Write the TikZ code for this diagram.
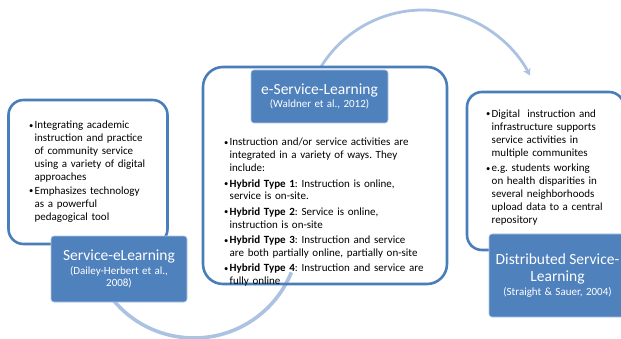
\documentclass[tikz,border=0pt]{standalone}
\usepackage{fontspec}
\setmainfont{Carlito}
\usetikzlibrary{arrows.meta}

\definecolor[named]{SLBlue}{RGB}{79,129,189}
\definecolor[named]{SLLine}{RGB}{74,126,187}
\definecolor[named]{SLArc}{RGB}{172,194,226}
\definecolor[named]{SLEdge}{RGB}{176,199,230}

\newdimen\bitemdepth
\newcommand{\titlefont}{\fontsize{15.5}{17}\selectfont}
\newcommand{\citefont}{\fontsize{11}{12}\selectfont}
\newcommand{\bitem}[2][0pt]{%
  \par\vskip#1\noindent
  \makebox[5.5pt][l]{\raisebox{0.5pt}{\fontsize{8.5}{8.5}\selectfont\textbullet}}%
  \parbox[t]{\dimexpr\linewidth-5.5pt\relax}{\raggedright #2\par
    \global\bitemdepth=\prevdepth}\par\prevdepth=\bitemdepth
}

\tikzset{
  outline/.style={draw=SLLine,line width=2.6pt,rectangle},
  labelbox/.style={draw=SLEdge,line width=0.6pt,fill=SLBlue,text=white,
    rounded corners=3pt,align=center,inner sep=0pt},
  bullets/.style={anchor=north west,inner sep=0pt,align=left,
    font=\fontsize{11}{12.8}\selectfont\frenchspacing}
}

\begin{document}
\begin{tikzpicture}[x=1pt,y=-1pt]
  \useasboundingbox (0,0) rectangle (621,339);
  \clip (0,0) rectangle (621,339);

  % Arcs {{{
  \coordinate (lowc) at (194,233);
  \coordinate (topc) at (423,130);
  \draw[SLArc,line width=3.6pt]
    (lowc) ++(140:105) arc[start angle=140,end angle=22,radius=105];
  \draw[SLArc,line width=2.8pt,-{Stealth[length=7pt,width=8pt]}]
    (topc) ++(212:120) arc[start angle=212,end angle=333,radius=120];
  % }}}

  % Outlines {{{
  \node[outline,rounded corners=15pt,minimum width=159pt,minimum height=144pt]
    (selbox) at (88,172) {};
  \node[outline,rounded corners=20pt,minimum width=244pt,minimum height=217pt]
    (eslbox) at (325,175.5) {};
  \node[outline,rounded corners=15pt,minimum width=157pt,minimum height=158pt]
    (dslbox) at (545.5,171) {};
  % }}}

  % Bullets {{{
  \node[bullets,text width=150pt] (seltext) at (29,116) {%
    \bitem{Integrating academic\\ instruction and practice\\
      of community service\\ using a variety of digital\\ approaches}
    \bitem[1.5pt]{Emphasizes technology\\ as a powerful\\
      pedagogical tool}};
  \node[bullets,text width=230pt] (esltext) at (224,133) {%
    \bitem{Instruction and/or service activities are\\
      integrated in a variety of ways. They\\ include:}
    \bitem[2.7pt]{\textbf{Hybrid Type 1}: Instruction is online,\\
      service is on-site.}
    \bitem[2.7pt]{\textbf{Hybrid Type 2}: Service is online,\\
      instruction is on-site}
    \bitem[2.7pt]{\textbf{Hybrid Type 3}: Instruction and service\\
      are both partially online, partially on-site}
    \bitem[2.7pt]{\textbf{Hybrid Type 4}: Instruction and service are\\
      fully online}};
  \node[bullets,text width=140pt,font=\fontsize{11}{13.1}\selectfont\frenchspacing]
    (dsltext) at (486,104) {%
    \bitem{Digital\ \ instruction and\\ infrastructure supports\\
      service activities in\\ multiple communites}
    \bitem[1.9pt]{e.g. students working\\ on health disparities in\\
      several neighborhoods\\ upload data to a central\\ repository}};
  % }}}

  % Labels {{{
  \node[labelbox,text width=136pt,minimum height=66pt] (sellabel) at (119,269) {%
    {\titlefont Service-eLearning\par}\vskip2pt
    {\citefont (Dailey-Herbert et al.,\\ 2008)\par}};
  \node[labelbox,text width=137pt,minimum height=53pt] (esllabel) at (319.5,96.5) {%
    {\titlefont e-Service-Learning\par}\vskip1pt
    {\citefont (Waldner et al., 2012)\par}};
  \node[labelbox,text width=137pt,minimum height=83pt] (dsllabel) at (557.5,275.5) {%
    {\titlefont Distributed Service-\\ Learning\par}\vskip2pt
    {\citefont (Straight \& Sauer, 2004)\par}};
  % }}}
\end{tikzpicture}
\end{document}
